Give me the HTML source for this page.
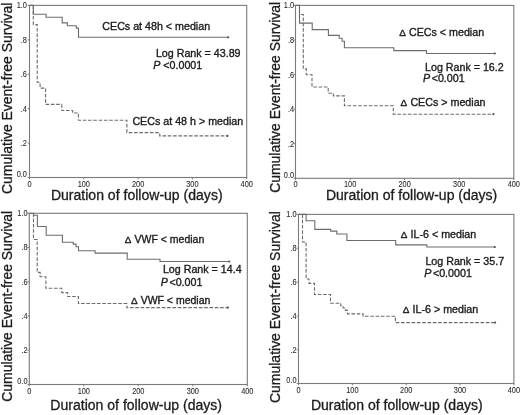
<!DOCTYPE html><html><head><meta charset="utf-8"><style>html,body{margin:0;padding:0;background:#fff;}svg{display:block;will-change:transform;}text{font-family:"Liberation Sans",sans-serif;}</style></head><body>
<svg width="520" height="415" viewBox="0 0 520 415">
<rect width="520" height="415" fill="#fff"/>
<rect x="29.5" y="5.4" width="217.2" height="172.1" fill="none" stroke="#7a7a7a" stroke-width="1.1"/>
<line x1="27.7" y1="177.5" x2="29.5" y2="177.5" stroke="#7a7a7a" stroke-width="1"/>
<text transform="translate(26.9,177.1) scale(0.9,1)" font-size="8.2" fill="#2a2a2a" stroke="#2a2a2a" stroke-width="0.08" text-anchor="end">0.0</text>
<line x1="27.7" y1="143.1" x2="29.5" y2="143.1" stroke="#7a7a7a" stroke-width="1"/>
<text transform="translate(26.9,146.0) scale(0.9,1)" font-size="8.2" fill="#2a2a2a" stroke="#2a2a2a" stroke-width="0.08" text-anchor="end">.2</text>
<line x1="27.7" y1="108.7" x2="29.5" y2="108.7" stroke="#7a7a7a" stroke-width="1"/>
<text transform="translate(26.9,111.6) scale(0.9,1)" font-size="8.2" fill="#2a2a2a" stroke="#2a2a2a" stroke-width="0.08" text-anchor="end">.4</text>
<line x1="27.7" y1="74.2" x2="29.5" y2="74.2" stroke="#7a7a7a" stroke-width="1"/>
<text transform="translate(26.9,77.1) scale(0.9,1)" font-size="8.2" fill="#2a2a2a" stroke="#2a2a2a" stroke-width="0.08" text-anchor="end">.6</text>
<line x1="27.7" y1="39.8" x2="29.5" y2="39.8" stroke="#7a7a7a" stroke-width="1"/>
<text transform="translate(26.9,42.7) scale(0.9,1)" font-size="8.2" fill="#2a2a2a" stroke="#2a2a2a" stroke-width="0.08" text-anchor="end">.8</text>
<line x1="27.7" y1="5.4" x2="29.5" y2="5.4" stroke="#7a7a7a" stroke-width="1"/>
<text transform="translate(26.9,8.3) scale(0.9,1)" font-size="8.2" fill="#2a2a2a" stroke="#2a2a2a" stroke-width="0.08" text-anchor="end">1.0</text>
<line x1="29.5" y1="177.5" x2="29.5" y2="179.3" stroke="#7a7a7a" stroke-width="1"/>
<text transform="translate(29.5,186.5) scale(0.9,1)" font-size="8.2" fill="#2a2a2a" stroke="#2a2a2a" stroke-width="0.08" text-anchor="middle">0</text>
<line x1="83.8" y1="177.5" x2="83.8" y2="179.3" stroke="#7a7a7a" stroke-width="1"/>
<text transform="translate(83.8,186.5) scale(0.9,1)" font-size="8.2" fill="#2a2a2a" stroke="#2a2a2a" stroke-width="0.08" text-anchor="middle">100</text>
<line x1="138.1" y1="177.5" x2="138.1" y2="179.3" stroke="#7a7a7a" stroke-width="1"/>
<text transform="translate(138.1,186.5) scale(0.9,1)" font-size="8.2" fill="#2a2a2a" stroke="#2a2a2a" stroke-width="0.08" text-anchor="middle">200</text>
<line x1="192.4" y1="177.5" x2="192.4" y2="179.3" stroke="#7a7a7a" stroke-width="1"/>
<text transform="translate(192.4,186.5) scale(0.9,1)" font-size="8.2" fill="#2a2a2a" stroke="#2a2a2a" stroke-width="0.08" text-anchor="middle">300</text>
<line x1="246.7" y1="177.5" x2="246.7" y2="179.3" stroke="#7a7a7a" stroke-width="1"/>
<text transform="translate(246.7,186.5) scale(0.9,1)" font-size="8.2" fill="#2a2a2a" stroke="#2a2a2a" stroke-width="0.08" text-anchor="middle">400</text>
<path d="M33.3,5.4 V24.6 H37.2 V82.3 H40.1 V88.1 H45.6 V104.4 H61.8 V110.5 H72.6 V113 H78.4 V120.3 H126.9 V132.6 H159.7 V135.9 H228" fill="none" stroke="#6c6c6c" stroke-width="1.1" stroke-dasharray="3.6,1.7"/>
<path d="M29.5,5.4 H33.3 V14.3 H46.1 V17.2 H62.2 V22.9 H67.4 V25.8 H76.3 V28.1 H78.5 V37.3 H228.8" fill="none" stroke="#6c6c6c" stroke-width="1.1"/>
<circle cx="228.2" cy="37.3" r="1.1" fill="#555"/>
<circle cx="227.4" cy="135.9" r="1.1" fill="#555"/>
<text transform="translate(12.2,194.0) rotate(-90)" font-size="13.8" fill="#1c1c1c" stroke="#1c1c1c" stroke-width="0.3" textLength="191.3" lengthAdjust="spacingAndGlyphs">Cumulative Event-free Survival</text>
<text x="50.9" y="199.5" font-size="13.8" fill="#1c1c1c" stroke="#1c1c1c" stroke-width="0.3" textLength="171.7" lengthAdjust="spacingAndGlyphs">Duration of follow-up (days)</text>
<text x="102.3" y="30.3" font-size="10.7" fill="#1c1c1c" stroke="#1c1c1c" stroke-width="0.35">CECs at 48h &lt; median</text>
<text x="155.9" y="56.7" font-size="10.7" fill="#1c1c1c" stroke="#1c1c1c" stroke-width="0.35">Log Rank = 43.89</text>
<text x="153.2" y="68.7" font-size="10.7" fill="#1c1c1c" stroke="#1c1c1c" stroke-width="0.35"><tspan font-style='italic'>P</tspan> &lt;0.0001</text>
<text x="132.4" y="124.5" font-size="10.7" fill="#1c1c1c" stroke="#1c1c1c" stroke-width="0.35">CECs at 48 h &gt; median</text>
<rect x="295.5" y="5.4" width="218.3" height="172.9" fill="none" stroke="#7a7a7a" stroke-width="1.1"/>
<line x1="293.7" y1="178.3" x2="295.5" y2="178.3" stroke="#7a7a7a" stroke-width="1"/>
<text transform="translate(294.1,177.9) scale(0.9,1)" font-size="8.2" fill="#2a2a2a" stroke="#2a2a2a" stroke-width="0.08" text-anchor="end">0.0</text>
<line x1="293.7" y1="143.7" x2="295.5" y2="143.7" stroke="#7a7a7a" stroke-width="1"/>
<text transform="translate(294.1,146.6) scale(0.9,1)" font-size="8.2" fill="#2a2a2a" stroke="#2a2a2a" stroke-width="0.08" text-anchor="end">.2</text>
<line x1="293.7" y1="109.1" x2="295.5" y2="109.1" stroke="#7a7a7a" stroke-width="1"/>
<text transform="translate(294.1,112.0) scale(0.9,1)" font-size="8.2" fill="#2a2a2a" stroke="#2a2a2a" stroke-width="0.08" text-anchor="end">.4</text>
<line x1="293.7" y1="74.6" x2="295.5" y2="74.6" stroke="#7a7a7a" stroke-width="1"/>
<text transform="translate(294.1,77.5) scale(0.9,1)" font-size="8.2" fill="#2a2a2a" stroke="#2a2a2a" stroke-width="0.08" text-anchor="end">.6</text>
<line x1="293.7" y1="40.0" x2="295.5" y2="40.0" stroke="#7a7a7a" stroke-width="1"/>
<text transform="translate(294.1,42.9) scale(0.9,1)" font-size="8.2" fill="#2a2a2a" stroke="#2a2a2a" stroke-width="0.08" text-anchor="end">.8</text>
<line x1="293.7" y1="5.4" x2="295.5" y2="5.4" stroke="#7a7a7a" stroke-width="1"/>
<text transform="translate(294.1,8.3) scale(0.9,1)" font-size="8.2" fill="#2a2a2a" stroke="#2a2a2a" stroke-width="0.08" text-anchor="end">1.0</text>
<line x1="295.5" y1="178.3" x2="295.5" y2="180.1" stroke="#7a7a7a" stroke-width="1"/>
<text transform="translate(295.5,187.3) scale(0.9,1)" font-size="8.2" fill="#2a2a2a" stroke="#2a2a2a" stroke-width="0.08" text-anchor="middle">0</text>
<line x1="350.1" y1="178.3" x2="350.1" y2="180.1" stroke="#7a7a7a" stroke-width="1"/>
<text transform="translate(350.1,187.3) scale(0.9,1)" font-size="8.2" fill="#2a2a2a" stroke="#2a2a2a" stroke-width="0.08" text-anchor="middle">100</text>
<line x1="404.6" y1="178.3" x2="404.6" y2="180.1" stroke="#7a7a7a" stroke-width="1"/>
<text transform="translate(404.6,187.3) scale(0.9,1)" font-size="8.2" fill="#2a2a2a" stroke="#2a2a2a" stroke-width="0.08" text-anchor="middle">200</text>
<line x1="459.2" y1="178.3" x2="459.2" y2="180.1" stroke="#7a7a7a" stroke-width="1"/>
<text transform="translate(459.2,187.3) scale(0.9,1)" font-size="8.2" fill="#2a2a2a" stroke="#2a2a2a" stroke-width="0.08" text-anchor="middle">300</text>
<line x1="513.8" y1="178.3" x2="513.8" y2="180.1" stroke="#7a7a7a" stroke-width="1"/>
<text transform="translate(513.8,187.3) scale(0.9,1)" font-size="8.2" fill="#2a2a2a" stroke="#2a2a2a" stroke-width="0.08" text-anchor="middle">400</text>
<path d="M299.5,5.4 V14.5 H303.3 V68.9 H306.3 V74.7 H312 V87 H328.2 V93.2 H333.3 V95.9 H344.4 V105.7 H393.3 V114.2 H494" fill="none" stroke="#6c6c6c" stroke-width="1.1" stroke-dasharray="3.6,1.7"/>
<path d="M295.5,5.4 H299.5 V23.1 H312.2 V29.6 H328.4 V35.4 H339.2 V38.3 H342.1 V41.2 H344.4 V47.7 H393.8 V50.6 H426.5 V53.5 H495.4" fill="none" stroke="#6c6c6c" stroke-width="1.1"/>
<circle cx="494.8" cy="53.5" r="1.1" fill="#555"/>
<circle cx="493.4" cy="114.2" r="1.1" fill="#555"/>
<text transform="translate(280.0,192.8) rotate(-90)" font-size="13.8" fill="#1c1c1c" stroke="#1c1c1c" stroke-width="0.3" textLength="191.0" lengthAdjust="spacingAndGlyphs">Cumulative Event-free Survival</text>
<text x="325.9" y="199.5" font-size="13.8" fill="#1c1c1c" stroke="#1c1c1c" stroke-width="0.3" textLength="171.4" lengthAdjust="spacingAndGlyphs">Duration of follow-up (days)</text>
<text x="399.2" y="36.0" font-size="10.7" fill="#1c1c1c" stroke="#1c1c1c" stroke-width="0.35"><tspan font-size='9.9'>&#916;</tspan><tspan dx='0.2'> </tspan>CECs &lt; median</text>
<text x="425.0" y="70.8" font-size="10.7" fill="#1c1c1c" stroke="#1c1c1c" stroke-width="0.35">Log Rank = 16.2</text>
<text x="423.0" y="82.4" font-size="10.7" fill="#1c1c1c" stroke="#1c1c1c" stroke-width="0.35"><tspan font-style='italic'>P</tspan><tspan dx='1.5'>&lt;0.001</tspan></text>
<text x="400.6" y="105.6" font-size="10.7" fill="#1c1c1c" stroke="#1c1c1c" stroke-width="0.35"><tspan font-size='9.9'>&#916;</tspan><tspan dx='0.2'> </tspan>CECs &gt; median</text>
<rect x="29.3" y="213.3" width="218.0" height="171.2" fill="none" stroke="#7a7a7a" stroke-width="1.1"/>
<line x1="27.5" y1="384.5" x2="29.3" y2="384.5" stroke="#7a7a7a" stroke-width="1"/>
<text transform="translate(27.6,384.1) scale(0.9,1)" font-size="8.2" fill="#2a2a2a" stroke="#2a2a2a" stroke-width="0.08" text-anchor="end">0.0</text>
<line x1="27.5" y1="350.3" x2="29.3" y2="350.3" stroke="#7a7a7a" stroke-width="1"/>
<text transform="translate(27.6,353.2) scale(0.9,1)" font-size="8.2" fill="#2a2a2a" stroke="#2a2a2a" stroke-width="0.08" text-anchor="end">.2</text>
<line x1="27.5" y1="316.0" x2="29.3" y2="316.0" stroke="#7a7a7a" stroke-width="1"/>
<text transform="translate(27.6,318.9) scale(0.9,1)" font-size="8.2" fill="#2a2a2a" stroke="#2a2a2a" stroke-width="0.08" text-anchor="end">.4</text>
<line x1="27.5" y1="281.8" x2="29.3" y2="281.8" stroke="#7a7a7a" stroke-width="1"/>
<text transform="translate(27.6,284.7) scale(0.9,1)" font-size="8.2" fill="#2a2a2a" stroke="#2a2a2a" stroke-width="0.08" text-anchor="end">.6</text>
<line x1="27.5" y1="247.5" x2="29.3" y2="247.5" stroke="#7a7a7a" stroke-width="1"/>
<text transform="translate(27.6,250.4) scale(0.9,1)" font-size="8.2" fill="#2a2a2a" stroke="#2a2a2a" stroke-width="0.08" text-anchor="end">.8</text>
<line x1="27.5" y1="213.3" x2="29.3" y2="213.3" stroke="#7a7a7a" stroke-width="1"/>
<text transform="translate(27.6,216.2) scale(0.9,1)" font-size="8.2" fill="#2a2a2a" stroke="#2a2a2a" stroke-width="0.08" text-anchor="end">1.0</text>
<line x1="29.3" y1="384.5" x2="29.3" y2="386.3" stroke="#7a7a7a" stroke-width="1"/>
<text transform="translate(29.3,393.5) scale(0.9,1)" font-size="8.2" fill="#2a2a2a" stroke="#2a2a2a" stroke-width="0.08" text-anchor="middle">0</text>
<line x1="83.8" y1="384.5" x2="83.8" y2="386.3" stroke="#7a7a7a" stroke-width="1"/>
<text transform="translate(83.8,393.5) scale(0.9,1)" font-size="8.2" fill="#2a2a2a" stroke="#2a2a2a" stroke-width="0.08" text-anchor="middle">100</text>
<line x1="138.3" y1="384.5" x2="138.3" y2="386.3" stroke="#7a7a7a" stroke-width="1"/>
<text transform="translate(138.3,393.5) scale(0.9,1)" font-size="8.2" fill="#2a2a2a" stroke="#2a2a2a" stroke-width="0.08" text-anchor="middle">200</text>
<line x1="192.8" y1="384.5" x2="192.8" y2="386.3" stroke="#7a7a7a" stroke-width="1"/>
<text transform="translate(192.8,393.5) scale(0.9,1)" font-size="8.2" fill="#2a2a2a" stroke="#2a2a2a" stroke-width="0.08" text-anchor="middle">300</text>
<line x1="247.3" y1="384.5" x2="247.3" y2="386.3" stroke="#7a7a7a" stroke-width="1"/>
<text transform="translate(247.3,393.5) scale(0.9,1)" font-size="8.2" fill="#2a2a2a" stroke="#2a2a2a" stroke-width="0.08" text-anchor="middle">400</text>
<path d="M33.5,213.3 V239.5 H37.2 V272.4 H40.1 V276.7 H45.9 V288.3 H61.8 V292.6 H67.6 V296.5 H78.4 V303.5 H126.9 V307.6 H228.5" fill="none" stroke="#6c6c6c" stroke-width="1.1" stroke-dasharray="3.6,1.7"/>
<path d="M29.3,213.3 H33.5 V215.2 H37.4 V226.5 H46.2 V235.2 H62.4 V242.2 H73.2 V244.1 H76.1 V246.7 H78.5 V250.8 H95.1 V253.1 H127.2 V259.2 H160 V261.5 H229.8" fill="none" stroke="#6c6c6c" stroke-width="1.1"/>
<circle cx="229.2" cy="261.5" r="1.1" fill="#555"/>
<circle cx="227.9" cy="307.6" r="1.1" fill="#555"/>
<text transform="translate(12.2,401.7) rotate(-90)" font-size="13.8" fill="#1c1c1c" stroke="#1c1c1c" stroke-width="0.3" textLength="190.9" lengthAdjust="spacingAndGlyphs">Cumulative Event-free Survival</text>
<text x="50.3" y="409.6" font-size="13.8" fill="#1c1c1c" stroke="#1c1c1c" stroke-width="0.3" textLength="171.7" lengthAdjust="spacingAndGlyphs">Duration of follow-up (days)</text>
<text x="124.8" y="242.9" font-size="10.5" fill="#1c1c1c" stroke="#1c1c1c" stroke-width="0.35"><tspan font-size='9.9'>&#916;</tspan><tspan dx='0.2'> </tspan>VWF &lt; median</text>
<text x="162.9" y="273.0" font-size="10.7" fill="#1c1c1c" stroke="#1c1c1c" stroke-width="0.35">Log Rank = 14.4</text>
<text x="160.8" y="285.6" font-size="10.7" fill="#1c1c1c" stroke="#1c1c1c" stroke-width="0.35"><tspan font-style='italic'>P</tspan><tspan dx='1.5'>&lt;0.001</tspan></text>
<text x="130.9" y="303.6" font-size="10.5" fill="#1c1c1c" stroke="#1c1c1c" stroke-width="0.35"><tspan font-size='9.9'>&#916;</tspan><tspan dx='0.2'> </tspan>VWF &lt; median</text>
<rect x="298.5" y="214.4" width="215.4" height="169.1" fill="none" stroke="#7a7a7a" stroke-width="1.1"/>
<line x1="296.7" y1="383.5" x2="298.5" y2="383.5" stroke="#7a7a7a" stroke-width="1"/>
<text transform="translate(296.6,383.1) scale(0.9,1)" font-size="8.2" fill="#2a2a2a" stroke="#2a2a2a" stroke-width="0.08" text-anchor="end">0.0</text>
<line x1="296.7" y1="349.7" x2="298.5" y2="349.7" stroke="#7a7a7a" stroke-width="1"/>
<text transform="translate(296.6,352.6) scale(0.9,1)" font-size="8.2" fill="#2a2a2a" stroke="#2a2a2a" stroke-width="0.08" text-anchor="end">.2</text>
<line x1="296.7" y1="315.9" x2="298.5" y2="315.9" stroke="#7a7a7a" stroke-width="1"/>
<text transform="translate(296.6,318.8) scale(0.9,1)" font-size="8.2" fill="#2a2a2a" stroke="#2a2a2a" stroke-width="0.08" text-anchor="end">.4</text>
<line x1="296.7" y1="282.0" x2="298.5" y2="282.0" stroke="#7a7a7a" stroke-width="1"/>
<text transform="translate(296.6,284.9) scale(0.9,1)" font-size="8.2" fill="#2a2a2a" stroke="#2a2a2a" stroke-width="0.08" text-anchor="end">.6</text>
<line x1="296.7" y1="248.2" x2="298.5" y2="248.2" stroke="#7a7a7a" stroke-width="1"/>
<text transform="translate(296.6,251.1) scale(0.9,1)" font-size="8.2" fill="#2a2a2a" stroke="#2a2a2a" stroke-width="0.08" text-anchor="end">.8</text>
<line x1="296.7" y1="214.4" x2="298.5" y2="214.4" stroke="#7a7a7a" stroke-width="1"/>
<text transform="translate(296.6,217.3) scale(0.9,1)" font-size="8.2" fill="#2a2a2a" stroke="#2a2a2a" stroke-width="0.08" text-anchor="end">1.0</text>
<line x1="298.5" y1="383.5" x2="298.5" y2="385.3" stroke="#7a7a7a" stroke-width="1"/>
<text transform="translate(298.5,392.5) scale(0.9,1)" font-size="8.2" fill="#2a2a2a" stroke="#2a2a2a" stroke-width="0.08" text-anchor="middle">0</text>
<line x1="352.4" y1="383.5" x2="352.4" y2="385.3" stroke="#7a7a7a" stroke-width="1"/>
<text transform="translate(352.4,392.5) scale(0.9,1)" font-size="8.2" fill="#2a2a2a" stroke="#2a2a2a" stroke-width="0.08" text-anchor="middle">100</text>
<line x1="406.2" y1="383.5" x2="406.2" y2="385.3" stroke="#7a7a7a" stroke-width="1"/>
<text transform="translate(406.2,392.5) scale(0.9,1)" font-size="8.2" fill="#2a2a2a" stroke="#2a2a2a" stroke-width="0.08" text-anchor="middle">200</text>
<line x1="460.0" y1="383.5" x2="460.0" y2="385.3" stroke="#7a7a7a" stroke-width="1"/>
<text transform="translate(460.0,392.5) scale(0.9,1)" font-size="8.2" fill="#2a2a2a" stroke="#2a2a2a" stroke-width="0.08" text-anchor="middle">300</text>
<line x1="513.9" y1="383.5" x2="513.9" y2="385.3" stroke="#7a7a7a" stroke-width="1"/>
<text transform="translate(513.9,392.5) scale(0.9,1)" font-size="8.2" fill="#2a2a2a" stroke="#2a2a2a" stroke-width="0.08" text-anchor="middle">400</text>
<path d="M302.5,214.4 V242 H306.1 V279 H309 V283.4 H314.5 V294.5 H330.5 V303.2 H340.8 V305.8 H343.1 V308 H345.4 V310.4 H347.4 V313.9 H363.1 V316.2 H395.4 V322.6 H495.7" fill="none" stroke="#6c6c6c" stroke-width="1.1" stroke-dasharray="3.6,1.7"/>
<path d="M298.5,214.4 H306.1 V220.7 H314.8 V229.4 H330.7 V231.1 H336.8 V234 H346.9 V240.5 H395.7 V244.9 H426.9 V247 H495.4" fill="none" stroke="#6c6c6c" stroke-width="1.1"/>
<circle cx="494.8" cy="247.0" r="1.1" fill="#555"/>
<circle cx="495.1" cy="322.6" r="1.1" fill="#555"/>
<text transform="translate(280.3,403.0) rotate(-90)" font-size="13.8" fill="#1c1c1c" stroke="#1c1c1c" stroke-width="0.3" textLength="191.8" lengthAdjust="spacingAndGlyphs">Cumulative Event-free Survival</text>
<text x="310.9" y="409.6" font-size="13.8" fill="#1c1c1c" stroke="#1c1c1c" stroke-width="0.3" textLength="171.8" lengthAdjust="spacingAndGlyphs">Duration of follow-up (days)</text>
<text x="400.8" y="237.5" font-size="10.7" fill="#1c1c1c" stroke="#1c1c1c" stroke-width="0.35"><tspan font-size='9.9'>&#916;</tspan><tspan dx='0.2'> </tspan>IL-6 &lt; median</text>
<text x="425.4" y="264.9" font-size="10.7" fill="#1c1c1c" stroke="#1c1c1c" stroke-width="0.35">Log Rank = 35.7</text>
<text x="424.3" y="276.8" font-size="10.7" fill="#1c1c1c" stroke="#1c1c1c" stroke-width="0.35"><tspan font-style='italic'>P</tspan><tspan dx='1.5'>&lt;0.0001</tspan></text>
<text x="402.8" y="312.8" font-size="10.7" fill="#1c1c1c" stroke="#1c1c1c" stroke-width="0.35"><tspan font-size='9.9'>&#916;</tspan><tspan dx='0.2'> </tspan>IL-6 &gt; median</text>
</svg></body></html>
